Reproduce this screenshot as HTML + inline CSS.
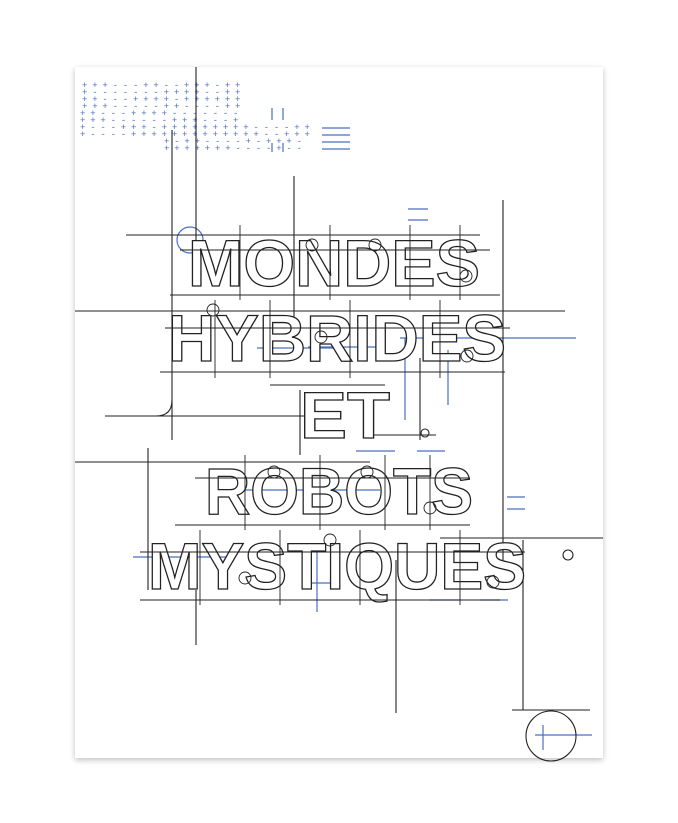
<!DOCTYPE html>
<html><head><style>
html,body{margin:0;padding:0;background:#fff;width:678px;height:823px;overflow:hidden}
svg{display:block}
</style></head><body>
<svg width="678" height="823" viewBox="0 0 678 823">
<defs><filter id="sh" x="-5%" y="-5%" width="110%" height="110%"><feDropShadow dx="0" dy="2" stdDeviation="3" flood-color="#000" flood-opacity="0.25"/></filter></defs>
<rect x="75" y="67" width="528" height="691" fill="#fff" filter="url(#sh)"/>
<g font-family="Liberation Mono, monospace" font-size="9" fill="#4a6fc0">
<text x="82" y="88" letter-spacing="-0.3">+ + + - - - + + - - + + + - + +</text>
<text x="82" y="95" letter-spacing="-0.3">+ - - - - - - - + + + + - - + +</text>
<text x="82" y="102" letter-spacing="-0.3">+ + - - - + + + + - + + + + + +</text>
<text x="82" y="109" letter-spacing="-0.3">+ + + - - - - - + + - - - - + +</text>
<text x="80" y="116" letter-spacing="-0.3">+ + - - - + + + + - - - - - - -</text>
<text x="80" y="123" letter-spacing="-0.3">+ + + - - - - - - + + + - - - +</text>
<text x="80" y="130" letter-spacing="-0.3">+ - - - + + + - + + + + + + + + + - - - - + +</text>
<text x="80" y="137" letter-spacing="-0.3">+ - - - - + + + + + + + + + + + + + - - + + +</text>
<text x="164" y="144" letter-spacing="-0.3">+ - + + - - - - + - + + + -</text>
<text x="164" y="151" letter-spacing="-0.3">+ + + + + + + - - - - + - -</text>
</g>
<g stroke="#4a6fc0" stroke-width="1.2">
<line x1="322" y1="128" x2="350" y2="128"/><line x1="322" y1="135" x2="350" y2="135"/><line x1="322" y1="142" x2="350" y2="142"/><line x1="322" y1="149" x2="350" y2="149"/>
<line x1="272" y1="108" x2="272" y2="120"/><line x1="283" y1="108" x2="283" y2="120"/>
<line x1="272" y1="143" x2="272" y2="152"/><line x1="283" y1="143" x2="283" y2="152"/>
<circle cx="190" cy="240" r="13" fill="none"/>
<line x1="408" y1="209" x2="428" y2="209"/><line x1="408" y1="220" x2="428" y2="220"/>
<line x1="400" y1="338" x2="576" y2="338"/><line x1="448" y1="350" x2="448" y2="405"/><line x1="405" y1="338" x2="405" y2="420"/>
<line x1="308" y1="347" x2="380" y2="347"/><line x1="257" y1="348" x2="340" y2="348"/>
<line x1="230" y1="490" x2="380" y2="490"/><line x1="133" y1="557" x2="230" y2="557"/>
<line x1="317" y1="550" x2="317" y2="612"/><line x1="305" y1="583" x2="330" y2="583"/>
<line x1="356" y1="451" x2="395" y2="451"/><line x1="417" y1="451" x2="445" y2="451"/>
<line x1="430" y1="600" x2="460" y2="600"/><line x1="480" y1="600" x2="508" y2="600"/>
<line x1="507" y1="497" x2="525" y2="497"/><line x1="507" y1="509" x2="525" y2="509"/>
<line x1="535" y1="735" x2="592" y2="735"/><line x1="543" y1="725" x2="543" y2="750"/>
</g>
<g stroke="#222" stroke-width="1.1" fill="none">
<line x1="196" y1="67" x2="196" y2="245"/>
<line x1="172" y1="130" x2="172" y2="440"/>
<line x1="294" y1="176" x2="294" y2="330"/>
<line x1="126" y1="235" x2="480" y2="235"/>
<line x1="75" y1="311" x2="565" y2="311"/>
<path d="M105 416 H156 Q172 416 172 400"/>
<line x1="105" y1="416" x2="340" y2="416"/>
<line x1="75" y1="462" x2="370" y2="462"/>
<line x1="148" y1="448" x2="148" y2="590"/>
<line x1="503" y1="200" x2="503" y2="560"/>
<line x1="440" y1="538" x2="603" y2="538"/>
<line x1="396" y1="560" x2="396" y2="713"/>
<line x1="196" y1="590" x2="196" y2="645"/>
<line x1="523" y1="540" x2="523" y2="710"/>
<line x1="512" y1="710" x2="590" y2="710"/>
<circle cx="551" cy="736" r="25"/>
<circle cx="568" cy="555" r="5"/>
<line x1="420" y1="358" x2="420" y2="440"/>
<line x1="300" y1="390" x2="300" y2="455"/>
<line x1="366" y1="435" x2="436" y2="435"/>
<circle cx="425" cy="433" r="4"/>
</g>
<g font-family="Liberation Sans, sans-serif" font-weight="bold" fill="#fff" stroke="#222" stroke-width="1.3" font-size="66">
<text x="188" y="286" textLength="292" lengthAdjust="spacingAndGlyphs">MONDES</text>
<text x="168" y="361" textLength="338" lengthAdjust="spacingAndGlyphs">HYBRIDES</text>
<text x="300" y="438" textLength="90" lengthAdjust="spacingAndGlyphs">ET</text>
<text x="205" y="514" textLength="268" lengthAdjust="spacingAndGlyphs">ROBOTS</text>
<text x="148" y="589" textLength="378" lengthAdjust="spacingAndGlyphs">MYSTIQUES</text>
</g>
<g stroke="#222" stroke-width="0.9" fill="none">
<line x1="170" y1="295" x2="500" y2="295"/>
<line x1="160" y1="372" x2="505" y2="372"/>
<line x1="175" y1="525" x2="470" y2="525"/>
<line x1="140" y1="600" x2="500" y2="600"/>
<line x1="270" y1="385" x2="385" y2="385"/>
<line x1="180" y1="250" x2="490" y2="250"/>
<line x1="165" y1="328" x2="510" y2="328"/>
<line x1="195" y1="478" x2="470" y2="478"/>
<line x1="140" y1="552" x2="525" y2="552"/>
<line x1="240" y1="225" x2="240" y2="300"/><line x1="330" y1="225" x2="330" y2="300"/><line x1="410" y1="225" x2="410" y2="300"/><line x1="460" y1="225" x2="460" y2="300"/>
<line x1="215" y1="300" x2="215" y2="378"/><line x1="270" y1="300" x2="270" y2="378"/><line x1="350" y1="300" x2="350" y2="378"/><line x1="440" y1="300" x2="440" y2="378"/>
<line x1="245" y1="455" x2="245" y2="530"/><line x1="320" y1="455" x2="320" y2="530"/><line x1="385" y1="455" x2="385" y2="530"/><line x1="430" y1="455" x2="430" y2="530"/>
<line x1="200" y1="530" x2="200" y2="605"/><line x1="280" y1="530" x2="280" y2="605"/><line x1="360" y1="530" x2="360" y2="605"/><line x1="460" y1="530" x2="460" y2="605"/>
<circle cx="312" cy="245" r="6"/><circle cx="375" cy="245" r="6"/><circle cx="466" cy="276" r="6"/>
<circle cx="213" cy="310" r="6"/><circle cx="321" cy="337" r="6"/><circle cx="467" cy="356" r="6"/>
<circle cx="274" cy="472" r="6"/><circle cx="367" cy="472" r="6"/><circle cx="430" cy="508" r="6"/>
<circle cx="330" cy="540" r="6"/><circle cx="493" cy="582" r="6"/><circle cx="245" cy="578" r="6"/>
</g>
</svg>
</body></html>
